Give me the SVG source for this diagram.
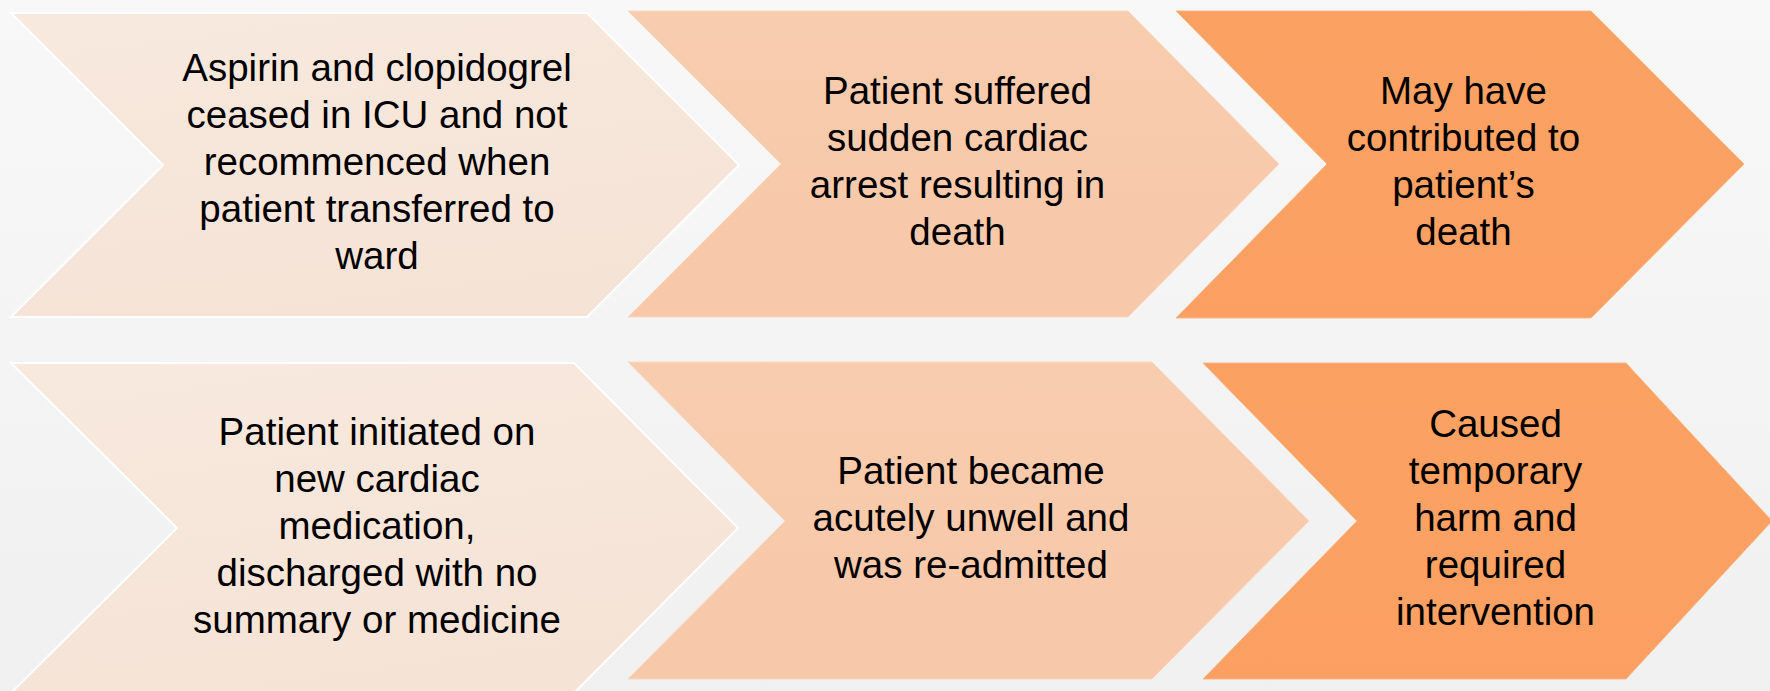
<svg xmlns="http://www.w3.org/2000/svg" width="1770" height="691" viewBox="0 0 1770 691">
  <defs>
    <linearGradient id="bg" x1="0" y1="0" x2="0" y2="1">
      <stop offset="0" stop-color="#F8F8F8"/>
      <stop offset="1" stop-color="#F0F0F0"/>
    </linearGradient>
    <linearGradient id="g1" x1="0" y1="0" x2="0.3" y2="1">
      <stop offset="0" stop-color="#F8E9DE"/>
      <stop offset="1" stop-color="#F5E3D6"/>
    </linearGradient>
    <linearGradient id="g2" x1="0" y1="0" x2="0" y2="1">
      <stop offset="0" stop-color="#F8CCAE"/>
      <stop offset="1" stop-color="#F7C8A9"/>
    </linearGradient>
    <linearGradient id="g3" x1="0" y1="0" x2="0" y2="1">
      <stop offset="0" stop-color="#FBA263"/>
      <stop offset="1" stop-color="#FBA062"/>
    </linearGradient>
  </defs>
  <style>
    .c1 { fill: url(#g1); stroke: #FFFFFF; stroke-width: 2; }
    .c2 { fill: url(#g2); stroke: #FBD8C0; stroke-width: 1; }
    .c3 { fill: url(#g3); stroke: #FCB584; stroke-width: 1; }
    text { font-family: "Liberation Sans", Arial, sans-serif; font-size: 38.5px; fill: #000000; text-anchor: middle; }
  </style>
  <rect x="0" y="0" width="1770" height="691" fill="url(#bg)"/>
  <g id="connectors"></g>

  <g id="node1">
    <polygon class="c1" points="11,13 587,13 739,165 587,317 11,317 163,165"/>
    <text x="377" y="81">Aspirin and clopidogrel</text>
    <text x="377" y="128">ceased in ICU and not</text>
    <text x="377" y="175">recommenced when</text>
    <text x="377" y="222">patient transferred to</text>
    <text x="377" y="269">ward</text>
  </g>

  <g id="node2">
    <polygon class="c2" points="628,11 1128,11 1279,164 1128,317 628,317 781,164"/>
    <text x="957.5" y="104">Patient suffered</text>
    <text x="957.5" y="151">sudden cardiac</text>
    <text x="957.5" y="198">arrest resulting in</text>
    <text x="957.5" y="245">death</text>
  </g>

  <g id="node3">
    <polygon class="c3" points="1176,11 1591,11 1744,164 1591,318 1176,318 1327,164"/>
    <text x="1463.5" y="104">May have</text>
    <text x="1463.5" y="151">contributed to</text>
    <text x="1463.5" y="198">patient’s</text>
    <text x="1463.5" y="245">death</text>
  </g>

  <g id="node4">
    <polygon class="c1" points="11,363 574,363 738,528 574,693 11,693 177,528"/>
    <text x="377" y="444.5">Patient initiated on</text>
    <text x="377" y="491.5">new cardiac</text>
    <text x="377" y="538.5">medication,</text>
    <text x="377" y="585.5">discharged with no</text>
    <text x="377" y="632.5">summary or medicine</text>
  </g>

  <g id="node5">
    <polygon class="c2" points="628,362 1152,362 1309,521 1152,679 628,679 785,521"/>
    <text x="971" y="484">Patient became</text>
    <text x="971" y="531">acutely unwell and</text>
    <text x="971" y="578">was re-admitted</text>
  </g>

  <g id="node6">
    <polygon class="c3" points="1203,363 1626,363 1772,521 1626,679 1203,679 1357,521"/>
    <text x="1495.5" y="437">Caused</text>
    <text x="1495.5" y="484">temporary</text>
    <text x="1495.5" y="531">harm and</text>
    <text x="1495.5" y="578">required</text>
    <text x="1495.5" y="625">intervention</text>
  </g>
</svg>
